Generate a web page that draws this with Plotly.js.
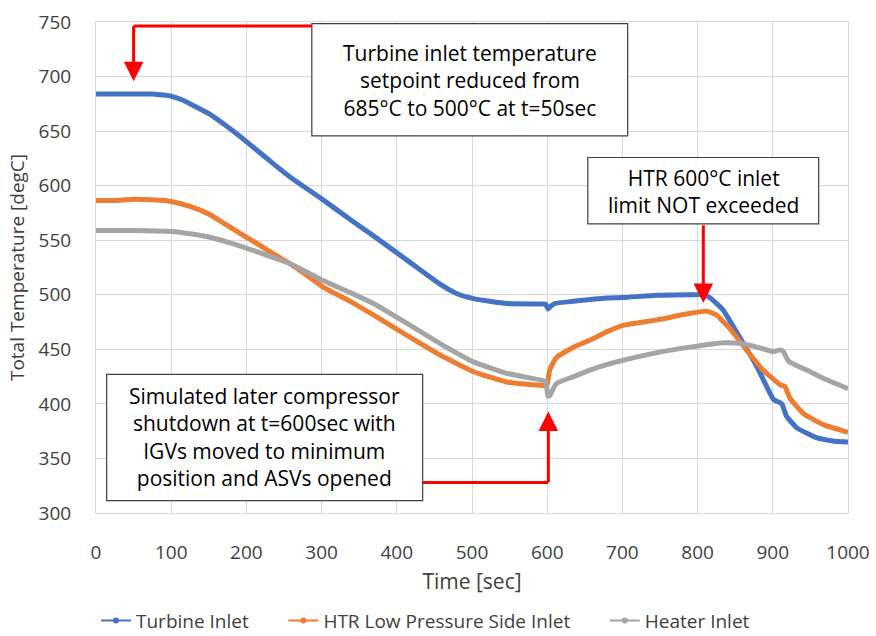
<!DOCTYPE html>
<html>
<head>
<meta charset="utf-8">
<script src="https://cdn.plot.ly/plotly-3.0.1.min.js"></script>
<style>html,body{margin:0;padding:0;background:#fff;}#chart{width:876px;height:636px;}</style>
</head>
<body>
<div id="chart"></div>
<script>
// ---- Data ----
const seriesNames = ["Turbine Inlet", "HTR Low Pressure Side Inlet", "Heater Inlet"];
const seriesColors = ["#4472C4", "#ED7D31", "#A5A5A5"];

const turbineTime = [0, 25, 50, 75, 90, 100, 115, 125, 150, 169, 190, 214, 236, 258, 302, 338, 369, 413, 457, 480, 502, 546, 590, 598, 601, 604, 610, 635, 679, 701, 746, 790, 808, 817, 834, 856, 879, 901, 912, 918, 932, 958, 980, 1000];
const turbineTemp = [684, 684, 684, 684, 683, 682, 678.5, 675, 666, 657, 646, 632.5, 620, 608, 587, 569, 554, 532, 510, 501, 496.5, 492, 491.5, 491.5, 487, 489, 492, 494, 497, 497.5, 499.5, 500, 500, 497, 486, 461, 434, 404, 400, 389, 378, 369, 366, 365];

const htrTime = [0, 25, 50, 75, 100, 125, 150, 169, 190, 214, 236, 258, 280, 302, 338, 369, 413, 457, 502, 546, 580, 598, 600, 603, 608, 613, 635, 657, 679, 701, 746, 790, 812, 825, 843, 865, 887, 910, 916, 923, 941, 967, 1000];
const htrTemp = [586.5, 586.5, 587.5, 587, 585.5, 581, 574, 566, 557, 547, 537.5, 528.5, 518, 507, 494, 481.5, 463, 445, 429.5, 420, 417.5, 417, 418, 430, 438, 443, 452, 458.5, 466, 472, 477, 483, 485, 481.5, 469, 449.5, 431, 417.5, 416, 405, 391, 381, 374];

const heaterTime = [0, 50, 100, 125, 150, 169, 190, 214, 236, 258, 280, 302, 338, 369, 413, 457, 502, 546, 590, 598, 601, 604, 608, 613, 635, 657, 679, 701, 746, 790, 834, 856, 879, 901, 910, 914, 921, 945, 967, 1000];
const heaterTemp = [559, 559, 558, 556, 553, 549.5, 545, 539.5, 534, 528.5, 521, 513, 502, 492, 474, 455.5, 438.5, 428, 422, 420.5, 407, 408, 414, 419, 425, 431, 436, 440, 447, 452, 456, 455.5, 452, 448, 449.5, 448, 439, 431, 423.5, 414];

const xTicks = [0, 100, 200, 300, 400, 500, 600, 700, 800, 900, 1000];
const yTicks = [300, 350, 400, 450, 500, 550, 600, 650, 700, 750];

const boxTexts = [
  "Turbine inlet temperature<br>setpoint reduced from<br>685°C to 500°C at t=50sec",
  "HTR 600°C inlet<br>limit NOT exceeded",
  "Simulated later compressor<br>shutdown at t=600sec with<br>IGVs moved to minimum<br>position and ASVs opened"
];

// ---- Traces ----
const xs = [turbineTime, htrTime, heaterTime];
const ys = [turbineTemp, htrTemp, heaterTemp];
const FONT = "'Open Sans', 'Noto Sans', sans-serif";
const PAD = "\u00a0\u00a0\u00a0\u00a0\u00a0\u00a0";
const traces = [];
for (let i = 0; i < 3; i++) {
  traces.push({
    x: xs[i], y: ys[i], type: "scatter", mode: "lines",
    line: {color: seriesColors[i], width: 5, shape: "spline", smoothing: 0.4},
    showlegend: false, hoverinfo: "skip"
  });
}
for (let i = 0; i < 3; i++) {
  traces.push({
    x: [null], y: [null], type: "scatter", mode: "lines+markers",
    name: seriesNames[i] + (i < 2 ? PAD : ""),
    line: {color: seriesColors[i], width: 2},
    marker: {color: seriesColors[i], size: 6},
    showlegend: true
  });
}

const red = "#FF0000";
const layout = {
  width: 876, height: 636,
  margin: {l: 96, r: 28, t: 22, b: 123, autoexpand: false},
  paper_bgcolor: "#fff", plot_bgcolor: "#fff",
  font: {family: FONT, color: "#404040"},
  showlegend: true,
  legend: {orientation: "h", x: 0.0, xanchor: "left", yref: "container", y: 0.024, yanchor: "middle",
           font: {size: 19, color: "#404040", family: FONT}, itemwidth: 30, tracegroupgap: 0},
  xaxis: {
    range: [0, 1000], tickvals: xTicks, ticktext: xTicks.map(String), automargin: false,
    showgrid: true, gridcolor: "#D9D9D9", gridwidth: 1, zeroline: false,
    showline: true, linecolor: "#D9D9D9", linewidth: 1, mirror: true,
    ticks: "", ticklabelstandoff: 22,
    tickfont: {size: 19, color: "#404040"},
    title: {text: "Time [sec]", font: {size: 21, color: "#404040"}, standoff: 10}
  },
  yaxis: {
    range: [300, 750], tickvals: yTicks, ticktext: yTicks.map(String), automargin: false,
    showgrid: true, gridcolor: "#D9D9D9", gridwidth: 1, zeroline: false,
    showline: true, linecolor: "#D9D9D9", linewidth: 1, mirror: true,
    ticks: "", ticklabelstandoff: 20,
    tickfont: {size: 19, color: "#404040"},
    title: {text: "Total Temperature [degC]", font: {size: 19, color: "#404040"}, standoff: 8}
  },
  shapes: [
    // annotation boxes
    {type: "rect", xref: "x", yref: "y", x0: 287, x1: 707, y0: 645.6, y1: 748.5, line: {color: "#404040", width: 1.2}, fillcolor: "#fff", layer: "above"},
    {type: "rect", xref: "x", yref: "y", x0: 654, x1: 961, y0: 565, y1: 625.8, line: {color: "#404040", width: 1.2}, fillcolor: "#fff", layer: "above"},
    {type: "rect", xref: "x", yref: "y", x0: 14.2, x1: 434.4, y0: 311.4, y1: 427.1, line: {color: "#404040", width: 1.2}, fillcolor: "#fff", layer: "above"},
    // elbow connectors
    {type: "line", xref: "x", yref: "y", x0: 287, x1: 50, y0: 746.3, y1: 746.3, line: {color: red, width: 3}, layer: "above"},
    {type: "line", xref: "x", yref: "y", x0: 434.4, x1: 601.5, y0: 328, y1: 328, line: {color: red, width: 3}, layer: "above"}
  ],
  annotations: [
    {xref: "x", yref: "y", x: 50, y: 695.7, axref: "x", ayref: "y", ax: 50, ay: 747.6, text: "", showarrow: true, arrowhead: 2, arrowsize: 1.3, arrowwidth: 3, arrowcolor: red, standoff: 0},
    {xref: "x", yref: "y", x: 807.6, y: 492.5, axref: "x", ayref: "y", ax: 807.6, ay: 565, text: "", showarrow: true, arrowhead: 2, arrowsize: 1.3, arrowwidth: 3, arrowcolor: red, standoff: 0},
    {xref: "x", yref: "y", x: 601.5, y: 393, axref: "x", ayref: "y", ax: 601.5, ay: 326.7, text: "", showarrow: true, arrowhead: 2, arrowsize: 1.3, arrowwidth: 3, arrowcolor: red, standoff: 0},
    {xref: "x", yref: "y", x: 497, y: 696.5, text: boxTexts[0], showarrow: false, xanchor: "center", yanchor: "middle", align: "center", font: {size: 21, color: "#000", family: FONT}},
    {xref: "x", yref: "y", x: 807.6, y: 594.4, text: boxTexts[1], showarrow: false, xanchor: "center", yanchor: "middle", align: "center", font: {size: 21, color: "#000", family: FONT}},
    {xref: "x", yref: "y", x: 224.3, y: 369.3, text: boxTexts[2], showarrow: false, xanchor: "center", yanchor: "middle", align: "center", font: {size: 21, color: "#000", family: FONT}}
  ]
};

Plotly.newPlot("chart", traces, layout, {displayModeBar: false, staticPlot: true});
</script>
</body>
</html>
